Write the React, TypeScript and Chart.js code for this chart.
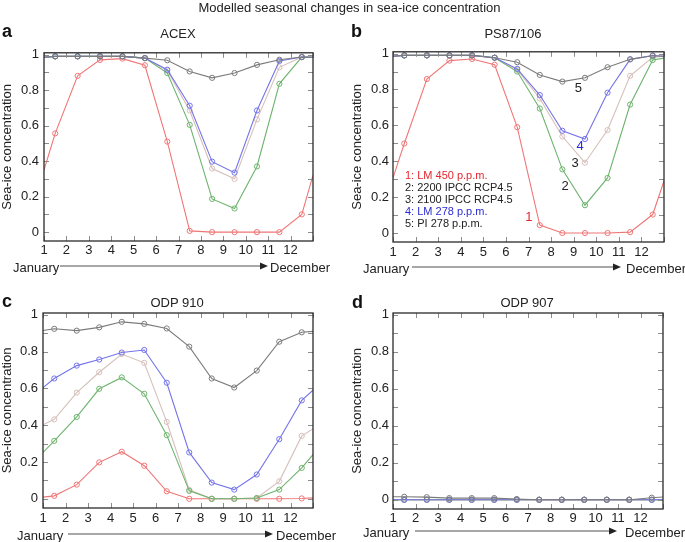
import React, { useEffect, useRef } from 'react';
import { Chart, registerables } from 'chart.js';

Chart.register(...registerables);

const FONT = '"Liberation Sans", Arial, Helvetica, sans-serif';
Chart.defaults.font.family = FONT;
Chart.defaults.color = '#222';

// ---- data ----
// x positions: left edge, mid-month points, right edge
const xPos = [1, 1.5, 2.5, 3.5, 4.5, 5.5, 6.5, 7.5, 8.5, 9.5, 10.5, 11.5, 12.5, 13];
const xTickValues = [1, 2, 3, 4, 5, 6, 7, 8, 9, 10, 11, 12, 13];
const xTickLabels = ['1', '2', '3', '4', '5', '6', '7', '8', '9', '10', '11', '12', ''];
const yTickValues = [0, 0.2, 0.4, 0.6, 0.8, 1];
const yTickLabels = ['0', '0.2', '0.4', '0.6', '0.8', '1'];
const yMinorTicks = [0, 0.1, 0.2, 0.3, 0.4, 0.5, 0.6, 0.7, 0.8, 0.9, 1];

const seriesNames = ['1: LM 450 p.p.m.', '2: 2200 IPCC RCP4.5', '3: 2100 IPCC RCP4.5', '4: LM 278 p.p.m.', '5: PI 278 p.p.m.'];
const seriesColors = ['#f07676', '#6db36d', '#d6bfbb', '#7474ea', '#7c7c7c'];
const legendTextColors = ['#e3262e', '#222222', '#222222', '#2b2bd6', '#222222'];

// ACEX
const acexLM450 = [0.35, 0.556, 0.88, 0.97, 0.977, 0.94, 0.51, 0.007, 0, 0, 0, 0, 0.10, 0.32];
const acex2200 = [0.985, 0.99, 0.99, 0.99, 0.99, 0.98, 0.896, 0.604, 0.187, 0.133, 0.37, 0.835, 0.986, 0.985];
const acex2100 = [0.985, 0.99, 0.99, 0.99, 0.99, 0.98, 0.91, 0.685, 0.358, 0.30, 0.635, 0.928, 0.986, 0.985];
const acexLM278 = [0.985, 0.99, 0.99, 0.99, 0.99, 0.98, 0.915, 0.712, 0.397, 0.335, 0.685, 0.964, 0.986, 0.985];
const acexPI278 = [0.985, 0.99, 0.99, 0.99, 0.99, 0.98, 0.968, 0.905, 0.869, 0.896, 0.942, 0.971, 0.986, 0.985];

// PS87/106
const psLM450 = [0.307, 0.499, 0.858, 0.961, 0.97, 0.938, 0.59, 0.044, 0, 0, 0, 0.005, 0.103, 0.29];
const ps2200 = [0.985, 0.99, 0.99, 0.99, 0.99, 0.977, 0.9, 0.694, 0.355, 0.155, 0.307, 0.716, 0.964, 0.975];
const ps2100 = [0.985, 0.99, 0.99, 0.99, 0.99, 0.977, 0.91, 0.75, 0.538, 0.392, 0.574, 0.876, 0.979, 0.985];
const psLM278 = [0.985, 0.99, 0.99, 0.99, 0.99, 0.977, 0.915, 0.769, 0.57, 0.524, 0.782, 0.968, 0.989, 0.985];
const psPI278 = [0.985, 0.99, 0.99, 0.99, 0.99, 0.977, 0.952, 0.881, 0.844, 0.865, 0.924, 0.968, 0.988, 0.985];

// ODP 910
const odp910LM450 = [0.009, 0.016, 0.077, 0.198, 0.256, 0.18, 0.041, 0, 0, 0, 0, 0, 0.002, 0.005];
const odp9102200 = [0.252, 0.315, 0.445, 0.598, 0.66, 0.571, 0.346, 0.043, 0, 0, 0.004, 0.05, 0.168, 0.24];
const odp9102100 = [0.402, 0.432, 0.577, 0.688, 0.787, 0.739, 0.418, 0.049, 0, 0, 0.004, 0.095, 0.342, 0.38];
const odp910LM278 = [0.604, 0.654, 0.724, 0.757, 0.795, 0.809, 0.631, 0.252, 0.088, 0.05, 0.132, 0.324, 0.535, 0.59];
const odp910PI278 = [0.915, 0.924, 0.914, 0.932, 0.962, 0.951, 0.926, 0.827, 0.654, 0.605, 0.697, 0.854, 0.905, 0.91];

// ODP 907
const odp907LM450 = [0, 0, 0, 0, 0, 0, 0, 0, 0, 0, 0, 0, 0, 0];
const odp9072200 = [0, 0, 0, 0, 0, 0, 0, 0, 0, 0, 0, 0, 0, 0];
const odp9072100 = [0, 0, 0, 0, 0, 0, 0, 0, 0, 0, 0, 0, 0, 0];
const odp907LM278 = [0, 0, 0, 0, 0, 0, 0, 0, 0, 0, 0, 0, 0, 0];
const odp907PI278 = [0.016, 0.016, 0.014, 0.009, 0.009, 0.009, 0.004, 0, 0, 0, 0, 0, 0.011, 0.015];

// panel b in-plot labels
const curveLabels = ['1', '2', '3', '4', '5'];
const curveLabelX = [7.02, 8.62, 9.06, 9.28, 9.21];
const curveLabelY = [0.085, 0.259, 0.389, 0.481, 0.805];
const legendX = 1.53;
const legendY = [0.316, 0.25, 0.183, 0.116, 0.05];

const panels = [
  { key: 'a', series: [acexLM450, acex2200, acex2100, acexLM278, acexPI278], left: 0, top: 40, w: 340, h: 225, pad: { left: 0, top: 5, right: 27, bottom: 4 }, yWidth: 44, yPad: 5, xPad: 2, annot: false },
  { key: 'b', series: [psLM450, ps2200, ps2100, psLM278, psPI278], left: 340, top: 40, w: 345, h: 226, pad: { left: 10, top: 5, right: 21, bottom: 4 }, yWidth: 43, yPad: 4, xPad: 3, annot: true },
  { key: 'c', series: [odp910LM450, odp9102200, odp9102100, odp910LM278, odp910PI278], left: 0, top: 300, w: 340, h: 232, pad: { left: 0, top: 13, right: 27, bottom: 4 }, yWidth: 43, yPad: 5, xPad: 3, annot: false },
  { key: 'd', series: [odp907LM450, odp9072200, odp9072100, odp907LM278, odp907PI278], left: 340, top: 300, w: 345, h: 233, pad: { left: 10, top: 13, right: 22, bottom: 4 }, yWidth: 43, yPad: 4, xPad: 2, annot: false },
];

const framePlugin = {
  id: 'frameTicks',
  afterDatasetsDraw(chart: any) {
    const { ctx, chartArea: a, scales } = chart;
    const x = scales.x;
    const y = scales.y;
    ctx.save();
    ctx.strokeStyle = '#8c8c8c';
    ctx.lineWidth = 1;
    ctx.beginPath();
    xTickValues.forEach((v) => {
      const px = Math.round(x.getPixelForValue(v)) + 0.5;
      ctx.moveTo(px, a.bottom);
      ctx.lineTo(px, a.bottom - 5);
      ctx.moveTo(px, a.top);
      ctx.lineTo(px, a.top + 5);
    });
    yMinorTicks.forEach((v) => {
      const py = Math.round(y.getPixelForValue(v)) + 0.5;
      ctx.moveTo(a.left, py);
      ctx.lineTo(a.left + 5, py);
      ctx.moveTo(a.right, py);
      ctx.lineTo(a.right - 5, py);
    });
    ctx.stroke();
    ctx.strokeStyle = '#2a2a2a';
    ctx.lineWidth = 1.3;
    ctx.strokeRect(a.left, a.top, a.right - a.left, a.bottom - a.top);
    ctx.restore();
  },
};

const annotPlugin = {
  id: 'panelBLabels',
  afterDatasetsDraw(chart: any) {
    const { ctx, scales } = chart;
    const x = scales.x;
    const y = scales.y;
    ctx.save();
    ctx.textBaseline = 'middle';
    ctx.font = `11px ${FONT}`;
    ctx.textAlign = 'left';
    seriesNames.forEach((name, i) => {
      ctx.fillStyle = legendTextColors[i];
      ctx.fillText(name, x.getPixelForValue(legendX), y.getPixelForValue(legendY[i]));
    });
    ctx.font = `13px ${FONT}`;
    ctx.textAlign = 'center';
    curveLabels.forEach((lab, i) => {
      ctx.fillStyle = legendTextColors[i];
      ctx.fillText(lab, x.getPixelForValue(curveLabelX[i]), y.getPixelForValue(curveLabelY[i]));
    });
    ctx.restore();
  },
};

function Panel({ cfg }: { cfg: any }) {
  const ref = useRef<HTMLCanvasElement>(null);
  useEffect(() => {
    const last = xPos.length - 1;
    const drawOrder = [4, 3, 1, 2, 0];
    const datasets = drawOrder.map((si, k) => ({
      label: seriesNames[si],
      data: xPos.map((xv, i) => ({ x: xv, y: cfg.series[si][i] })),
      borderColor: seriesColors[si],
      backgroundColor: 'transparent',
      pointBorderColor: seriesColors[si],
      pointBackgroundColor: 'transparent',
      borderWidth: 1.1,
      pointBorderWidth: 1,
      pointRadius: (c: any) => (c.dataIndex === 0 || c.dataIndex === last ? 0 : 2.6),
      tension: 0,
      order: k,
    }));
    const chart = new Chart(ref.current as HTMLCanvasElement, {
      type: 'line',
      data: { datasets },
      plugins: cfg.annot ? [framePlugin, annotPlugin] : [framePlugin],
      options: {
        animation: false,
        responsive: false,
        devicePixelRatio: 1,
        layout: { padding: cfg.pad },
        plugins: { legend: { display: false }, tooltip: { enabled: false }, title: { display: false } },
        scales: {
          x: {
            type: 'linear',
            min: 1,
            max: 13,
            grid: { display: false, drawTicks: false },
            border: { display: false },
            afterBuildTicks: (s: any) => {
              s.ticks = xTickValues.map((v) => ({ value: v }));
            },
            afterFit: (s: any) => {
              s.height = 20;
            },
            ticks: {
              padding: cfg.xPad,
              color: '#222',
              font: { size: 13 },
              maxRotation: 0,
              autoSkip: false,
              callback: (_v: any, i: number) => xTickLabels[i],
            },
          },
          y: {
            type: 'linear',
            min: -0.05,
            max: 1.01,
            grid: { display: false, drawTicks: false },
            border: { display: false },
            afterBuildTicks: (s: any) => {
              s.ticks = yTickValues.map((v) => ({ value: v }));
            },
            afterFit: (s: any) => {
              s.width = cfg.yWidth;
            },
            ticks: {
              padding: cfg.yPad,
              color: '#222',
              font: { size: 13 },
              callback: (_v: any, i: number) => yTickLabels[i],
            },
            title: {
              display: true,
              text: 'Sea-ice concentration',
              color: '#222',
              font: { size: 13 },
              padding: { top: 0, bottom: 0 },
            },
          },
        },
      } as any,
    });
    return () => chart.destroy();
  }, []);
  return (
    <canvas
      ref={ref}
      width={cfg.w}
      height={cfg.h}
      style={{ position: 'absolute', left: cfg.left, top: cfg.top, width: cfg.w, height: cfg.h }}
    />
  );
}

const panelTitles = [
  { text: 'ACEX', x: 178, y: 38 },
  { text: 'PS87/106', x: 513, y: 38 },
  { text: 'ODP 910', x: 177, y: 307 },
  { text: 'ODP 907', x: 527, y: 307 },
];
const panelLetters = [
  { text: 'a', x: 2, y: 37 },
  { text: 'b', x: 351, y: 37 },
  { text: 'c', x: 2, y: 307 },
  { text: 'd', x: 352, y: 308 },
];
const monthArrows = [
  { jx: 13, y: 267, lineStart: 60, tip: 268, dx: 270 },
  { jx: 363, y: 268, lineStart: 412, tip: 621, dx: 626 },
  { jx: 17, y: 535, lineStart: 68, tip: 273, dx: 276 },
  { jx: 363, y: 532, lineStart: 415, tip: 617, dx: 625 },
];

export default function App() {
  return (
    <div style={{ position: 'absolute', left: 0, top: 0, width: 685, height: 542, background: '#fff', overflow: 'hidden' }}>
      {panels.map((p) => (
        <Panel key={p.key} cfg={p} />
      ))}
      <svg
        width={685}
        height={542}
        style={{ position: 'absolute', left: 0, top: 0, pointerEvents: 'none' }}
        fontFamily={FONT}
      >
        <text x={349.5} y={12} fontSize={13} textAnchor="middle" fill="#222">
          Modelled seasonal changes in sea-ice concentration
        </text>
        {panelTitles.map((t) => (
          <text key={t.text} x={t.x} y={t.y} fontSize={13} textAnchor="middle" fill="#222">
            {t.text}
          </text>
        ))}
        {panelLetters.map((t) => (
          <text key={t.text} x={t.x} y={t.y} fontSize={18} fontWeight="bold" fill="#111">
            {t.text}
          </text>
        ))}
        {monthArrows.map((m, i) => (
          <g key={i}>
            <text x={m.jx} y={m.y} fontSize={13} dominantBaseline="central" fill="#222">
              January
            </text>
            <line x1={m.lineStart} y1={m.y - 1} x2={m.tip - 7} y2={m.y - 1} stroke="#8a8a8a" strokeWidth={1.5} />
            <polygon points={`${m.tip - 8},${m.y - 4.5} ${m.tip},${m.y - 1} ${m.tip - 8},${m.y + 2.5}`} fill="#222" />
            <text x={m.dx} y={m.y} fontSize={13} dominantBaseline="central" fill="#222">
              December
            </text>
          </g>
        ))}
      </svg>
    </div>
  );
}
